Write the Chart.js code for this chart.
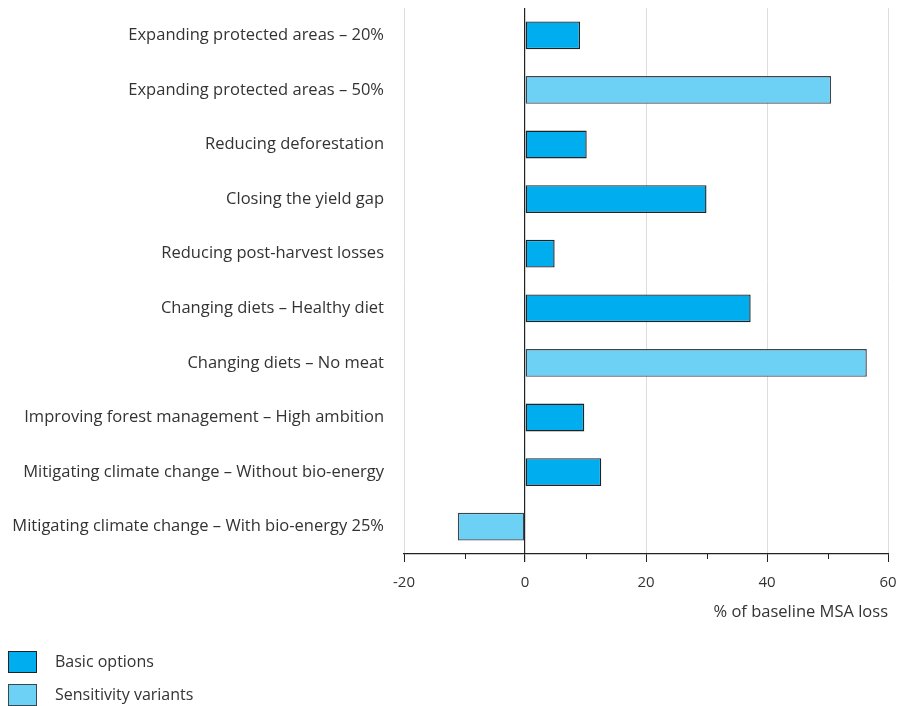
<!DOCTYPE html>
<html>
<head>
<meta charset="utf-8">
<script src="https://cdn.jsdelivr.net/npm/chart.js@4"></script>
<style>
  html, body { margin: 0; padding: 0; background: #fff; }
  #wrap { width: 902px; height: 706px; position: relative; }
</style>
</head>
<body>
<div id="wrap"><canvas id="msaChart"></canvas></div>
<script>
// Options and their effect on baseline MSA loss
const categories = [
    'Expanding protected areas \u2013 20%',
    'Expanding protected areas \u2013 50%',
    'Reducing deforestation',
    'Closing the yield gap',
    'Reducing post-harvest losses',
    'Changing diets \u2013 Healthy diet',
    'Changing diets \u2013 No meat',
    'Improving forest management \u2013 High ambition',
    'Mitigating climate change \u2013 Without bio-energy',
    'Mitigating climate change \u2013 With bio-energy 25%'
];
const msaValues = [9.1, 50.6, 10.2, 30.0, 4.9, 37.3, 56.5, 9.8, 12.6, -11.1];
// 0 = basic option, 1 = sensitivity variant
const optionKind = [0, 1, 0, 0, 0, 0, 1, 0, 0, 1];
const legendLabels = ['Basic options', 'Sensitivity variants'];
const kindColors = ['#00aeef', '#6dd0f5'];
const kindBorders = ['#222222', '#3a4650'];
const minorTicks = [-10, 10, 30, 50];

const FONT = '"Open Sans"';
const TEXT = '#333333';

// minor tick marks under the axis + the bottom legend
const extrasPlugin = {
    id: 'extras',
    afterDraw(chart) {
        const ctx = chart.ctx;
        const x = chart.scales.x;
        const yb = chart.chartArea.bottom;
        ctx.save();
        ctx.strokeStyle = '#222';
        ctx.lineWidth = 1;
        minorTicks.forEach(v => {
            const px = Math.round(x.getPixelForValue(v)) + 0.5;
            ctx.beginPath();
            ctx.moveTo(px, yb);
            ctx.lineTo(px, yb + 5);
            ctx.stroke();
        });

        // legend
        ctx.font = '16px ' + FONT;
        ctx.textBaseline = 'middle';
        legendLabels.forEach((lbl, i) => {
            const top = 651 + i * 33;
            ctx.fillStyle = kindColors[i];
            ctx.fillRect(8, top, 29, 22);
            ctx.strokeStyle = kindBorders[i];
            ctx.strokeRect(8.5, top + 0.5, 28, 21);
            ctx.fillStyle = TEXT;
            ctx.fillText(lbl, 55, top + 11);
        });
        ctx.restore();
    }
};

new Chart(document.getElementById('msaChart'), {
    type: 'bar',
    data: {
        labels: categories,
        datasets: [{
            label: 'MSA loss',
            data: msaValues,
            backgroundColor: optionKind.map(k => kindColors[k]),
            borderColor: optionKind.map(k => kindBorders[k]),
            borderWidth: 1.4,
            borderSkipped: false,
            categoryPercentage: 1,
            barPercentage: 0.51
        }]
    },
    options: {
        indexAxis: 'y',
        responsive: true,
        maintainAspectRatio: false,
        animation: false,
        layout: {
            padding: { top: 8, right: 14, bottom: 84, left: 0 }
        },
        plugins: {
            legend: { display: false },
            tooltip: { enabled: false }
        },
        scales: {
            x: {
                min: -20,
                max: 60,
                ticks: {
                    stepSize: 20,
                    color: TEXT,
                    padding: 12,
                    maxRotation: 0,
                    font: { family: FONT, size: 15 }
                },
                grid: {
                    color: ctx => ctx.tick && ctx.tick.value === 0 ? '#222' : '#dddddd',
                    tickColor: '#222',
                    tickLength: 8,
                    lineWidth: ctx => ctx.tick && ctx.tick.value === 0 ? 1.2 : 1
                },
                border: { color: '#222', width: 1.2 },
                title: {
                    display: true,
                    text: '% of baseline MSA loss',
                    align: 'end',
                    color: TEXT,
                    font: { family: FONT, size: 16.5 },
                    padding: { top: 8, bottom: 0 }
                },
                afterFit(scale) {
                    scale.height = 68;
                    scale.paddingLeft = 0;
                    scale.paddingRight = 0;
                }
            },
            y: {
                grid: { display: false },
                border: { display: false },
                ticks: {
                    color: TEXT,
                    padding: 12,
                    font: { family: FONT, size: 16.5 }
                },
                afterFit(scale) {
                    scale.width = 404;
                    scale.paddingTop = 0;
                    scale.paddingBottom = 0;
                }
            }
        }
    },
    plugins: [extrasPlugin]
});
</script>
</body>
</html>
